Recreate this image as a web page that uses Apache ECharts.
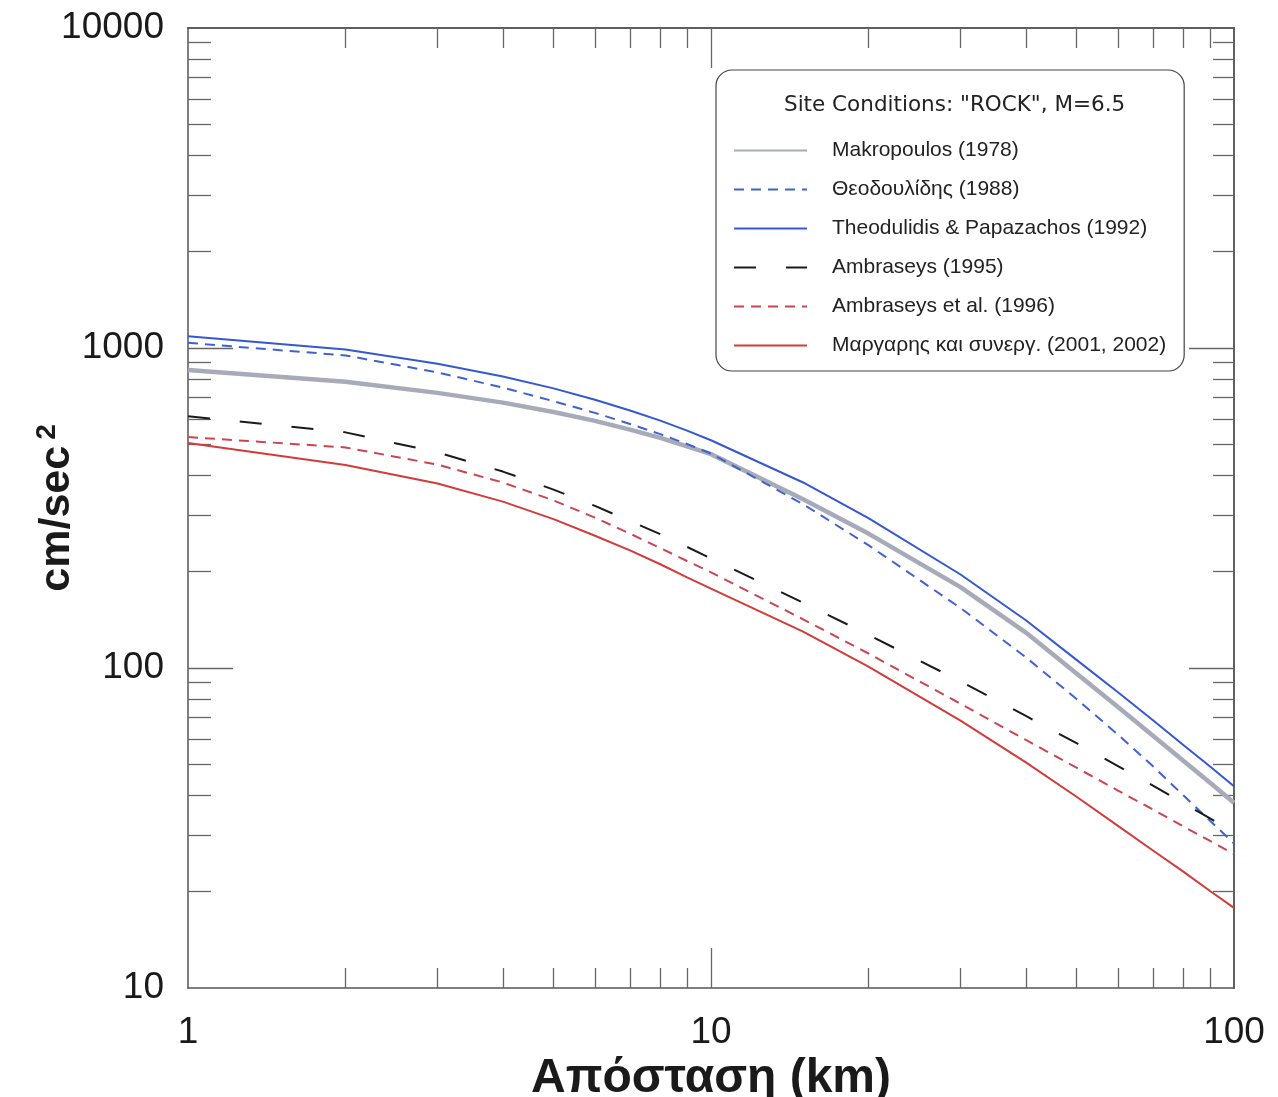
<!DOCTYPE html>
<html>
<head>
<meta charset="utf-8">
<script src="https://cdn.jsdelivr.net/npm/echarts@6/dist/echarts.min.js"></script>
<style>
  html, body { margin: 0; padding: 0; background: #fff; }
  #chart { width: 1278px; height: 1097px; }
</style>
</head>
<body>
<div id="chart"></div>
<script>
  // distance (km) and PGA (cm/sec^2)
  var distances = [1, 2, 3, 4, 5, 6, 7, 8, 9, 10, 15, 20, 30, 40, 50, 60, 70, 80, 90, 100];

  var makropoulos = [853, 785, 724, 675, 631, 592, 556, 524, 493, 466, 337, 263, 179, 129, 96.2, 75.5, 61.4, 51.3, 43.8, 37.9];
  var theodoulidis = [1038, 948, 839, 752, 682, 627, 579, 538, 501, 468, 325, 242, 154, 108, 80.0, 61.9, 49.3, 40.0, 33.3, 28.3];
  var theoPapaz = [1089, 989, 893, 815, 748, 689, 638, 593, 552, 515, 380, 294, 196, 141, 106, 84, 68.7, 57.5, 49.2, 42.7];
  var ambraseys95 = [612, 545, 472, 411, 361, 321, 288, 262, 239, 220, 160, 127, 90.8, 70.8, 58.2, 49.4, 42.9, 37.8, 33.9, 30.6];
  var ambraseys96 = [527, 489, 432, 380, 334, 295, 263, 237, 216, 199, 142, 111, 77.3, 59.6, 48.8, 41.4, 36.1, 32.0, 28.8, 26.2];
  var margaris = [505, 431, 377, 331, 292, 259, 233, 211, 192, 177, 130, 101, 68.5, 50.7, 39.6, 32.1, 26.9, 23.1, 20.1, 17.8];

  var seriesNames = [
    'Makropoulos (1978)',
    'Θεοδουλίδης (1988)',
    'Theodulidis & Papazachos (1992)',
    'Ambraseys (1995)',
    'Ambraseys et al. (1996)',
    'Μαργαρης και συνεργ. (2001, 2002)'
  ];

  var xMajor = [1, 10, 100];
  var xMinor = [2, 3, 4, 5, 6, 7, 8, 9, 20, 30, 40, 50, 60, 70, 80, 90];
  var yMajor = [10, 100, 1000, 10000];
  var yMinor = [20, 30, 40, 50, 60, 70, 80, 90, 200, 300, 400, 500, 600, 700, 800, 900,
                2000, 3000, 4000, 5000, 6000, 7000, 8000, 9000];

  function pairs(vals) {
    return distances.map(function (d, i) { return [d, vals[i]]; });
  }

  var frame = { show: true, lineStyle: { color: '#555', width: 1.5 } };
  var tickColor = '#666';
  var plain = function (v) { return String(Math.round(v)); };

  function xAx(pos, ticks, len, labels, extra) {
    var ax = {
      type: 'log', logBase: 10, min: 1, max: 100, position: pos, gridIndex: 0,
      axisLine: labels !== null || pos === 'top' ? frame : { show: false },
      axisTick: { show: true, inside: true, length: len, customValues: ticks,
                  lineStyle: { color: tickColor, width: 1.3 } },
      axisLabel: labels ? {
        show: true, customValues: labels, formatter: plain, fontSize: 37, color: '#1a1a1a',
        fontFamily: 'Liberation Sans, Arial, sans-serif', margin: 26
      } : { show: false },
      splitLine: { show: false },
      minorTick: { show: false }
    };
    return Object.assign(ax, extra || {});
  }

  function yAx(pos, ticks, len, labels, extra) {
    var ax = {
      type: 'log', logBase: 10, min: 10, max: 10000, position: pos, gridIndex: 0,
      axisLine: labels !== null || pos === 'right' ? frame : { show: false },
      axisTick: { show: true, inside: true, length: len, customValues: ticks,
                  lineStyle: { color: tickColor, width: 1.3 } },
      axisLabel: labels ? {
        show: true, customValues: labels, formatter: plain, fontSize: 37, color: '#1a1a1a',
        fontFamily: 'Liberation Sans, Arial, sans-serif', margin: 24, padding: [6, 0, 0, 0]
      } : { show: false },
      splitLine: { show: false },
      minorTick: { show: false }
    };
    return Object.assign(ax, extra || {});
  }

  var chart = echarts.init(document.getElementById('chart'));
  chart.setOption({
    animation: false,
    backgroundColor: '#ffffff',
    grid: { left: 188, right: 44, top: 28, bottom: 109, containLabel: false, outerBoundsMode: 'none' },
    title: {
      text: 'Site Conditions: "ROCK", M=6.5',
      left: 779, top: 89,
      textStyle: { fontFamily: 'Comic Sans MS, DejaVu Sans, sans-serif', fontSize: 21.5,
                   fontWeight: 'normal', color: '#222' }
    },
    legend: {
      orient: 'vertical',
      left: 716, top: 70,
      padding: [70, 18, 15, 17],
      itemWidth: 73, itemHeight: 20, itemGap: 18,
      borderColor: '#444', borderWidth: 1.2, borderRadius: 16,
      backgroundColor: '#fff',
      selectedMode: false,
      data: seriesNames,
      itemStyle: { opacity: 0 },
      textStyle: { fontFamily: 'Liberation Sans, Arial, sans-serif', fontSize: 21,
                   color: '#222', lineHeight: 20, padding: [0, 0, 0, 20] }
    },
    xAxis: [
      xAx('bottom', xMinor, 20, xMajor, {
        name: 'Απόσταση (km)', nameLocation: 'middle', nameGap: 67, nameMoveOverlap: false,
        nameTextStyle: { fontFamily: 'Liberation Sans, Arial, sans-serif',
                         fontSize: 48, fontWeight: 'bold', color: '#1a1a1a' }
      }),
      xAx('bottom', [10], 40, null),
      xAx('top', xMinor, 20, null),
      xAx('top', [10], 40, null)
    ],
    yAxis: [
      yAx('left', yMinor, 23, yMajor, {
        name: '{a|cm/sec}{b|2}', nameLocation: 'middle', nameGap: 109, nameMoveOverlap: false,
        nameTextStyle: {
          rich: {
            a: { fontFamily: 'Liberation Sans, Arial, sans-serif', fontSize: 43,
                 fontWeight: 'bold', color: '#1a1a1a', lineHeight: 46, verticalAlign: 'bottom' },
            b: { fontFamily: 'Liberation Sans, Arial, sans-serif', fontSize: 28,
                 fontWeight: 'bold', color: '#1a1a1a', lineHeight: 46, verticalAlign: 'top',
                 padding: [0, 0, 0, 6] }
          }
        }
      }),
      yAx('left', [100, 1000], 45, null),
      yAx('right', yMinor, 21, null),
      yAx('right', [1000, 100], 45, null)
    ],
    series: [
      { name: seriesNames[0], type: 'line', data: pairs(makropoulos), symbol: 'none',
        lineStyle: { color: '#a7aab8', width: 4.5, type: 'solid' }, itemStyle: { color: '#a7aab8' }, z: 2 },
      { name: seriesNames[1], type: 'line', data: pairs(theodoulidis), symbol: 'none',
        lineStyle: { color: '#3f62d0', width: 2, type: [10, 7] }, itemStyle: { color: '#3f62d0' }, z: 3 },
      { name: seriesNames[2], type: 'line', data: pairs(theoPapaz), symbol: 'none',
        lineStyle: { color: '#3558d2', width: 2, type: 'solid' }, itemStyle: { color: '#3558d2' }, z: 3 },
      { name: seriesNames[3], type: 'line', data: pairs(ambraseys95), symbol: 'none',
        lineStyle: { color: '#1a1a1a', width: 2, type: [22, 30] }, itemStyle: { color: '#1a1a1a' }, z: 3 },
      { name: seriesNames[4], type: 'line', data: pairs(ambraseys96), symbol: 'none',
        lineStyle: { color: '#cc4450', width: 2, type: [10, 7] }, itemStyle: { color: '#cc4450' }, z: 3 },
      { name: seriesNames[5], type: 'line', data: pairs(margaris), symbol: 'none',
        lineStyle: { color: '#d33b3b', width: 2, type: 'solid' }, itemStyle: { color: '#d33b3b' }, z: 3 }
    ]
  });
</script>
</body>
</html>
